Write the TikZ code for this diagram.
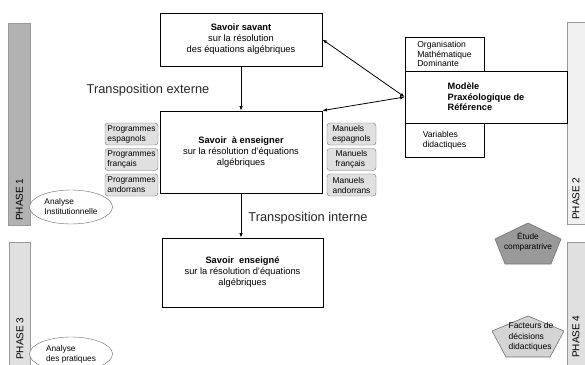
\documentclass[tikz,border=0pt]{standalone}
\usepackage{fontspec}
\setmainfont{Liberation Sans}
\usetikzlibrary{shapes.geometric,arrows.meta}

\begin{document}
\begin{tikzpicture}[x=1pt,y=-1pt,
    savoir/.style={draw,line width=0.8pt,fill=white,align=center,inner sep=0pt,font=\fontsize{9.3}{11}\selectfont},
    doc/.style={draw=black!55,fill=black!12,rounded corners=3pt,align=left,inner sep=1pt,minimum height=22pt,font=\fontsize{8.4}{10}\selectfont},
    cadre/.style={draw,line width=0.7pt,fill=white,align=left,inner sep=0pt,font=\fontsize{8.6}{9.6}\selectfont},
    analyse/.style={ellipse,draw=black!60,fill=white,minimum width=83pt,minimum height=34pt,inner sep=0pt,align=left,font=\fontsize{8.3}{10}\selectfont},
    phasebar/.style={draw=black!40,line width=0.6pt},
    phasetxt/.style={rotate=90,anchor=west,inner sep=0pt,font=\fontsize{10}{12}\selectfont},
    transpo/.style={font=\fontsize{12.8}{14}\selectfont,text=black!85},
    penta/.style={draw=black!55,line width=0.6pt},
    fleche/.style={line width=0.8pt,-{Latex[length=4.5pt,width=3.5pt]}},
    fleches/.style={line width=0.8pt,{Latex[length=4.5pt,width=3.5pt]}-{Latex[length=4.5pt,width=3.5pt]}}
]
\useasboundingbox (0,0) rectangle (585,364);

\draw[phasebar,fill=black!30] (8,23) rectangle (30,225);
\draw[phasebar,fill=black!12] (9,242) rectangle (30,370);
\draw[phasebar,fill=black!6] (567,22) rectangle (590,224);
\draw[phasebar,fill=black!12] (567,242) rectangle (590,370);

\node[phasetxt] (phase1) at (19.5,221) {PHASE 1};
\node[phasetxt] (phase2) at (576,220) {PHASE 2};
\node[phasetxt] (phase3) at (20,360) {PHASE 3};
\node[phasetxt] (phase4) at (576,358) {PHASE 4};

\node[savoir,minimum width=162pt,minimum height=53pt] (savant) at (241,39.5)
    {\textbf{Savoir savant}\\sur la résolution\\des équations algébriques};
\node[savoir,minimum width=162pt,minimum height=82pt] (enseigner) at (241,152)
    {\textbf{Savoir~ à enseigner}\\sur la résolution d'équations\\algébriques};
\node[savoir,minimum width=161pt,minimum height=69pt] (enseigne) at (242.5,272.5)
    {\textbf{Savoir~ enseigné}\\sur la résolution d'équations\\algébriques};

\node[cadre,minimum width=79pt,minimum height=34pt] (organisation) at (444.5,54)
    {Organisation\\Mathématique\\Dominante};
\node[cadre,minimum width=79pt,minimum height=34pt] (variables) at (444.5,140)
    {Variables\\didactiques};
\node[cadre,minimum width=162pt,minimum height=52pt,font=\bfseries\fontsize{9.2}{10.5}\selectfont] (modele) at (486,97)
    {Modèle\\Praxéologique de\\Référence};

\foreach \i/\y/\t in
{1/134/espagnols,
    2/159.5/français,
    3/185/andorrans
}
{
    \node[doc,minimum width=53pt] (prog\i) at (131.5,\y) {Programmes\\\t};
    \node[doc,minimum width=49pt] (man\i) at (351.5,\y) {Manuels\\\t};
};

\draw[fleche] (savant) -- (enseigner);
\draw[fleche] (enseigner.south) -- (enseigner.south |- enseigne.north);
\draw[fleches] (savant.east) -- (modele.west);
\draw[fleches] (enseigner.north east) -- (modele.west);

\node[transpo] (externe) at (148,90) {Transposition externe};
\node[transpo] (interne) at (308,218) {Transposition interne};

\node[analyse] (institution) at (71,207) {Analyse\\Institutionnelle};
\node[analyse] (pratiques) at (71,354) {Analyse\\des pratiques};

\draw[penta,fill=black!40,shift={(528,244)}] (0,-21) -- (33,-5) -- (23,20) -- (-23,20) -- (-33,-5) -- cycle;
\node[font=\fontsize{8.3}{10}\selectfont,align=center] (etude) at (528,241.5) {Étude\\comparatrive};

\draw[penta,fill=black!17,shift={(528,336)}] (0,-20) -- (36,-5) -- (22,21) -- (-22,21) -- (-36,-5) -- cycle;
\node[font=\fontsize{8.5}{10.5}\selectfont,align=left] (facteurs) at (531,337) {Facteurs de\\décisions\\didactiques};

\end{tikzpicture}
\end{document}
